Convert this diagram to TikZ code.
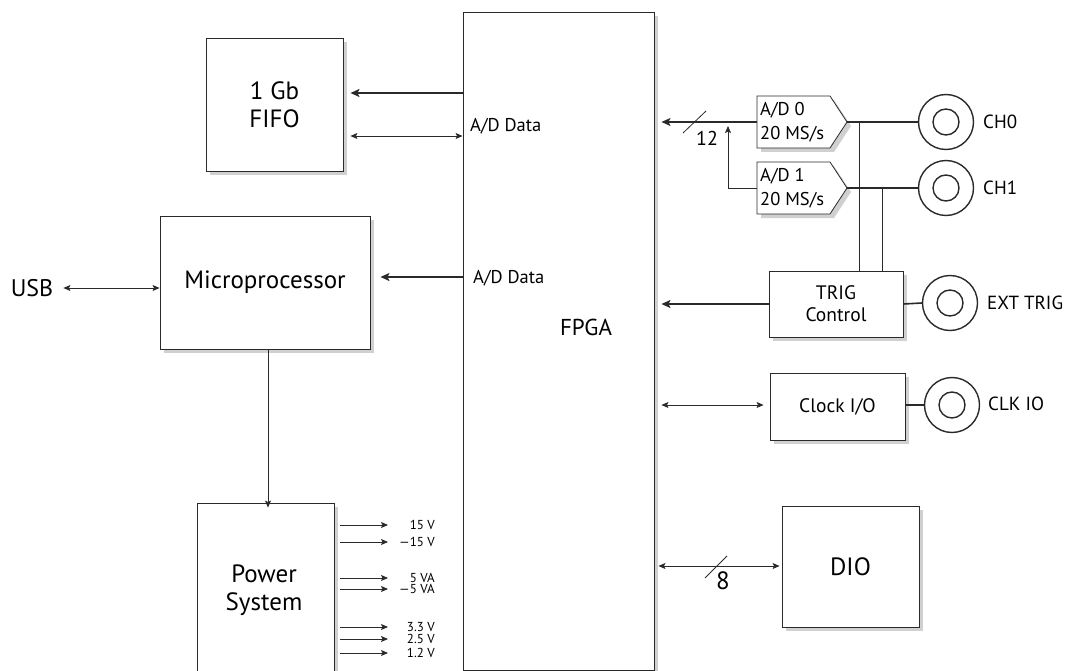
\documentclass[tikz,border=0pt]{standalone}
\usepackage{fontspec}
\setmainfont{PT Sans}
\usetikzlibrary{arrows.meta,shadows}
\definecolor{ln}{HTML}{2A2A2A}
\definecolor{sh}{HTML}{D0D0D0}
\tikzset{
  box/.style={draw=ln, fill=white, line width=0.9pt, inner sep=0pt,
    drop shadow={shadow xshift=4pt, shadow yshift=-4pt, fill=sh, opacity=1}},
  tk/.style={draw=ln, line width=1.6pt},
  tn/.style={draw=ln, line width=0.8pt},
  ah/.style={-{Stealth[length=7pt,width=6pt,inset=1.5pt]}},
  tah/.style={-{Stealth[length=9pt,width=8pt,inset=2pt]}},
  dah/.style={{Stealth[length=7pt,width=6pt,inset=1.5pt]}-{Stealth[length=7pt,width=6pt,inset=1.5pt]}},
  jack/.style={circle, draw=ln, line width=1.4pt, minimum size=55pt, inner sep=0pt},
  jin/.style={circle, draw=ln, line width=1.4pt, minimum size=26pt, inner sep=0pt},
  lbl/.style={inner sep=0pt, font=\fontsize{19}{22}\selectfont},
  pw/.style={inner sep=0pt, anchor=east, font=\fontsize{13}{14}\selectfont},
  big/.style={font=\fontsize{25}{28}\selectfont},
}
\begin{document}
\begin{tikzpicture}[x=1pt,y=-1pt]
\useasboundingbox (0,0) rectangle (1065,671);
% main boxes
\node[box, minimum width=191pt, minimum height=658pt] (fpga) at (558.5,341) {};
\node[lbl, font=\fontsize{23}{25}\selectfont] (fpgal) at (586,327) {FPGA};
\node[box, big, minimum width=137pt, minimum height=133pt, align=center] (fifo) at (274.5,104.5) {1 Gb\\FIFO};
\node[box, big, minimum width=210pt, minimum height=133pt] (mp) at (265,282.5) {Microprocessor};
\node[box, minimum width=137pt, minimum height=190pt] (pwr) at (265.5,598) {};
\node[inner sep=0pt, big, align=center] (pwrl) at (264,590) {Power\\System};
\node[box, minimum width=134pt, minimum height=66pt, align=center, font=\fontsize{19.5}{22}\selectfont] (trig) at (836,304) {TRIG\\Control};
\node[box, minimum width=135pt, minimum height=67pt, font=\fontsize{19.5}{22}\selectfont] (clk) at (837.5,406.5) {Clock I/O};
\node[box, big, minimum width=137pt, minimum height=121pt] (dio) at (850.5,566.5) {DIO};
% labels
\node[lbl, anchor=west, font=\fontsize{18.5}{20}\selectfont] (add1) at (470,126) {A/D Data};
\node[lbl, anchor=west, font=\fontsize{18.5}{20}\selectfont] (add2) at (473,278) {A/D Data};
\node[lbl, font=\fontsize{24}{26}\selectfont] (usb) at (32,288) {USB};
% A/D converters (pentagons)
\foreach \n/\y/\t in {ad0/122/{A/D 0}, ad1/188/{A/D 1}}{
  \fill[sh] (761,\y-22) -- (834,\y-22) -- (851,\y+4) -- (834,\y+30) -- (761,\y+30) -- cycle;
  \draw[tn, fill=white] (757,\y-26) -- (830,\y-26) -- (847,\y) -- (830,\y+26) -- (757,\y+26) -- cycle;
  \coordinate (\n w) at (757,\y);
  \coordinate (\n e) at (847,\y);
  \node[inner sep=0pt, anchor=west, align=left, font=\fontsize{18.5}{24}\selectfont] (\n t) at (760,\y) {\t\\20 MS/s};
}
% jacks
\foreach \n/\x/\y in {ch0/946/122, ch1/946/188, ext/950/303, cio/952/405}{
  \node[jack] (\n) at (\x,\y) {};
  \node[jin] (\n i) at (\x,\y) {};
}
\node[lbl, anchor=west] (ch0l) at (983,122) {CH0};
\node[lbl, anchor=west] (ch1l) at (983,188) {CH1};
\node[lbl, anchor=west] (extl) at (987,303) {EXT TRIG};
\node[lbl, anchor=west] (ciol) at (988,404) {CLK IO};
% left connectors
\draw[tk, tah] (fpga.west |- 0,93) -- ([xshift=7pt]fifo.east |- 0,93);
\draw[tn, dah] ([xshift=7pt]fifo.east |- 0,136) -- (fpga.west |- 0,136);
\draw[tk, tah] (fpga.west |- 0,277) -- ([xshift=10pt]mp.east |- 0,277);
\draw[tn, dah] ([xshift=10pt]usb.east |- 0,288) -- (mp.west |- 0,288);
\draw[tn, ah] (268,0 |- mp.south) -- ([yshift=-5pt]268,0 |- pwr.north);
% power outputs
\foreach \y/\t in {525/15 V, 542/{---15 V}, 578/5 VA, 589/{---5 VA}, 627/3.3 V, 639/2.5 V, 653/1.2 V}{
  \draw[tn, ah] ([xshift=6pt]pwr.east |- 0,\y) -- (388,\y);
  \node[pw] at (435,\y) {\t};
}
% right connectors
\draw[tk, tah] (ad0w) -- ([xshift=7pt]fpga.east |- ad0w);
\draw[tn] (683,133) -- (706,111);
\node[inner sep=0pt, font=\fontsize{20}{22}\selectfont] (n12) at (707,138) {12};
\draw[tn, ah] (ad1w) -- (728,188) -- (728,126);
\draw[tk] (ad0e) -- (ch0.west);
\draw[tk] (ad1e) -- (ch1.west);
\draw[tn] (859,122) -- (859,0 |- trig.north);
\draw[tn] (882,188) -- (882,0 |- trig.north);
\draw[tk, tah] (trig.west) -- ([xshift=7pt]fpga.east |- trig.west);
\draw[tk] (trig.east) -- (ext.west);
\draw[tn, dah] ([xshift=7pt]fpga.east |- 0,405) -- ([xshift=-6pt]clk.west |- 0,405);
\draw[tk] (clk.east |- 0,405) -- (cio.west);
\draw[tn, dah] ([xshift=4pt]fpga.east |- 0,566) -- ([xshift=-2pt]dio.west |- 0,566);
\draw[tn] (705,578) -- (727,556);
\node[inner sep=0pt, font=\fontsize{25}{27}\selectfont] (n8) at (723,581) {8};
\end{tikzpicture}
\end{document}
